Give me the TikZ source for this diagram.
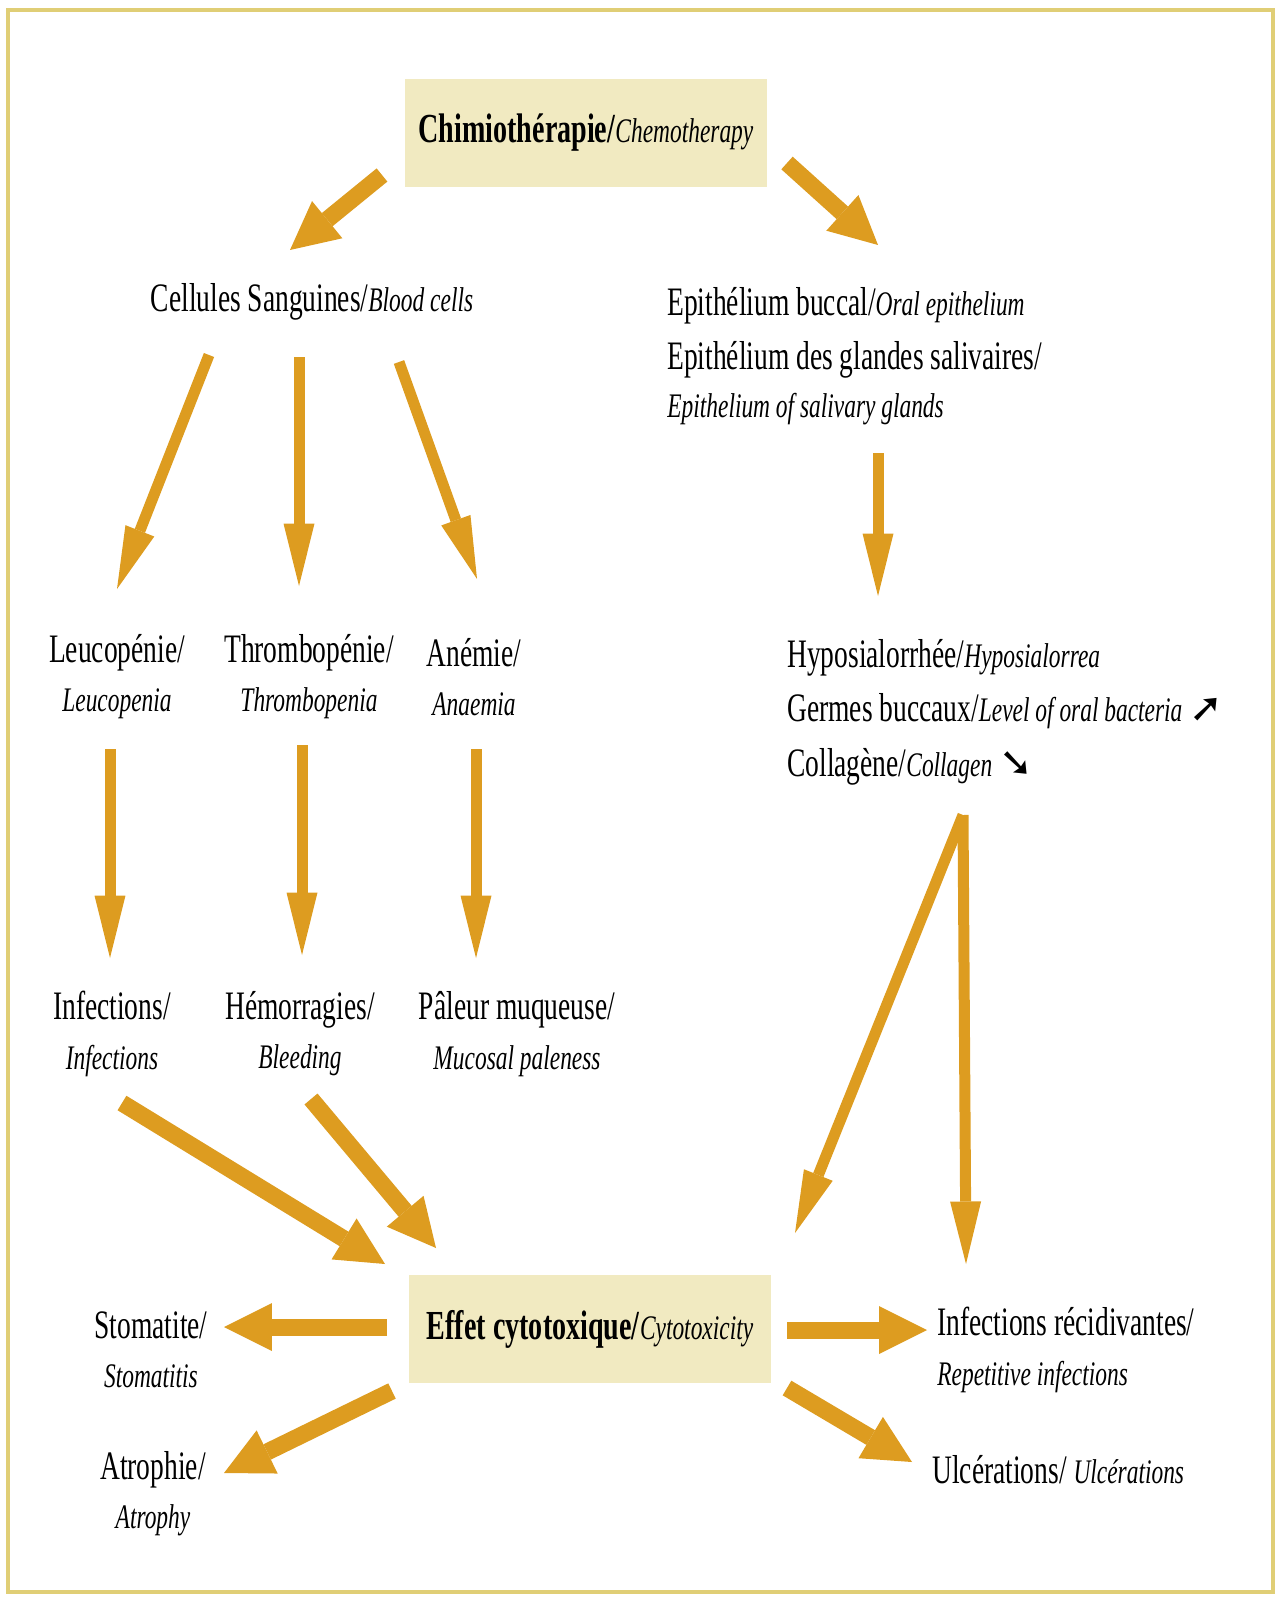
\documentclass[tikz,border=0pt]{standalone}
\usepackage{fontspec}
\setmainfont[FakeStretch=0.68]{Liberation Serif}
\newfontfamily\arrowfont{DejaVu Sans}
\usepackage{tikz}
\usetikzlibrary{arrows.meta,calc,positioning}
\definecolor{arrowgold}{RGB}{221,156,32}
\definecolor{boxtan}{RGB}{241,234,193}
\definecolor{framegold}{RGB}{224,206,118}
\newcommand{\engl}[1]{{\fontsize{19.6}{24}\selectfont\itshape #1}}

\begin{document}
\begin{tikzpicture}[x=0.02cm, y=-0.02cm,
    lbl/.style={align=center, inner sep=0pt, font=\fontsize{23}{28}\selectfont},
    lbll/.style={align=left, anchor=west, inner sep=0pt, font=\fontsize{23}{31}\selectfont},
    box/.style={fill=boxtan, minimum width=7.24cm, minimum height=2.16cm, font=\fontsize{23.5}{28}\selectfont},
    thinarr/.style={draw=arrowgold, line width=0.22cm, -{Triangle[length=1.25cm,width=0.62cm,line width=0pt]}},
    thickarr/.style={draw=arrowgold, line width=0.34cm, -{Triangle[length=0.96cm,width=0.96cm,line width=0pt]}}]
  \useasboundingbox (0,0) rectangle (1280,1598);
  \draw[framegold, line width=0.08cm] (8,10) rectangle (1273,1592);

  % Boxes
  \node[box] (chemo) at (586,133) {\textbf{Chimiothérapie/}\engl{Chemotherapy}};
  \node[box] (effet) at (590,1329) {\textbf{Effet cytotoxique/}\engl{Cytotoxicity}};

  % Blood side
  \node[lbl] (cells) at (312,302) {Cellules Sanguines/\engl{Blood cells}};
  \node[lbl] (leuco) at (117,677) {Leucopénie/\\\engl{Leucopenia}};
  \node[lbl] (throm) at (309,677) {Thrombopénie/\\\engl{Thrombopenia}};
  \node[lbl] (anem) at (474,677) {Anémie/\\\engl{Anaemia}};
  \node[lbl] (infect) at (112,1034) {Infections/\\\engl{Infections}};
  \node[lbl] (hemo) at (300,1034) {Hémorragies/\\\engl{Bleeding}};
  \node[lbl] (paleur) at (517,1034) {Pâleur muqueuse/\\\engl{Mucosal paleness}};

  % Epithelium side
  \node[lbll] (epith) at (667,356) {Epithélium buccal/\engl{Oral epithelium}\\Epithélium des glandes salivaires/\\[-4pt]\engl{Epithelium of salivary glands}};
  \node[lbll] (hypo) at (787,712) {Hyposialorrhée/\engl{Hyposialorrea}\\Germes buccaux/\engl{Level of oral bacteria} {\arrowfont\bfseries ➚}\\Collagène/\engl{Collagen} {\arrowfont\bfseries ➘}};

  % Effects
  \node[lbl] (stoma) at (151,1350) {Stomatite/\\\engl{Stomatitis}};
  \node[lbl] (atro) at (153,1494) {Atrophie/\\\engl{Atrophy}};
  \node[lbll, font=\fontsize{23}{28}\selectfont] (recid) at (937,1350) {Infections récidivantes/\\\engl{Repetitive infections}};
  \node[lbll] (ulcer) at (932,1470) {Ulcérations/ \engl{Ulcérations}};

  % Arrows
  \draw[thickarr] ($(chemo)+(-204,42)$) -- ($(cells)+(-22,-52)$);
  \draw[thickarr] ($(chemo)+(201,30)$) -- ($(epith.west)+(211,-111)$);
  \draw[thinarr] ($(cells)+(-103,53)$) -- ($(leuco)+(0,-88)$);
  \draw[thinarr] ($(cells)+(-13,55)$) -- ($(throm)+(-10,-91)$);
  \draw[thinarr] ($(cells)+(87,60)$) -- ($(anem)+(3,-98)$);
  \draw[thinarr] ($(leuco)+(-7,72)$) -- ($(infect)+(-2,-76)$);
  \draw[thinarr] ($(throm)+(-7,68)$) -- ($(hemo)+(2,-79)$);
  \draw[thinarr] ($(anem)+(2,72)$) -- ($(paleur)+(-41,-76)$);
  \draw[thickarr] ($(infect)+(10,69)$) -- ($(effet)+(-205,-65)$);
  \draw[thickarr] ($(hemo)+(11,65)$) -- ($(effet)+(-154,-81)$);
  \draw[thinarr] ($(epith.west)+(211,97)$) -- ($(hypo.west)+(91,-116)$);
  \draw[thinarr] ($(hypo.west)+(176,103)$) -- ($(effet)+(205,-96)$);
  \draw[thinarr] ($(hypo.west)+(176,103)$) -- ($(recid.west)+(29,-86)$);
  \draw[thickarr] ($(effet)+(-203,-2)$) -- ($(stoma)+(73,-23)$);
  \draw[thickarr] ($(effet)+(-198,62)$) -- ($(atro)+(71,-21)$);
  \draw[thickarr] ($(effet)+(197,1)$) -- ($(recid.west)+(-10,-20)$);
  \draw[thickarr] ($(effet)+(197,59)$) -- ($(ulcer.west)+(-20,-8)$);
\end{tikzpicture}
\end{document}
